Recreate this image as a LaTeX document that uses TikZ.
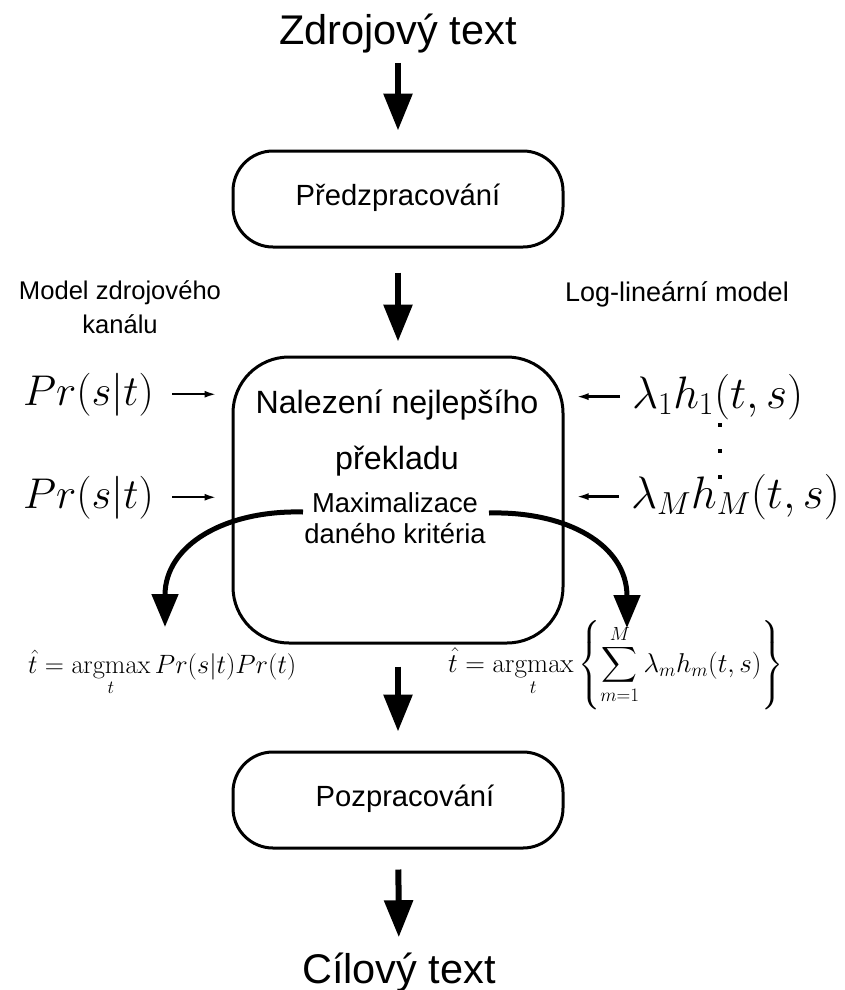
\RequirePackage{fix-cm}
\documentclass[tikz,border=0pt]{standalone}
\usepackage{amsmath}
\usepackage[no-math]{fontspec}
\setmainfont{Liberation Sans}
\usetikzlibrary{arrows.meta}

\tikzset{
  stagebox/.style={draw, line width=3pt, rounded corners=40pt,
    minimum width=330pt, minimum height=96pt, inner sep=0pt,
    text height=22pt, text depth=9pt,
    font=\fontsize{29.2}{35}\selectfont},
  searchbox/.style={draw, line width=3pt, rounded corners=56pt,
    minimum width=330pt, minimum height=286pt, inner sep=0pt},
  endtext/.style={font=\fontsize{41.5}{49}\selectfont, inner sep=0pt},
  sidetext/.style={font=\fontsize{25.6}{34}\selectfont, inner sep=0pt, align=center},
  titletext/.style={font=\fontsize{32.2}{56}\selectfont, inner sep=0pt, align=center},
  subtext/.style={font=\fontsize{27.4}{31}\selectfont, inner sep=0pt, align=center},
  bigmath/.style={font=\fontsize{43}{50}\selectfont, inner sep=0pt},
  featmath/.style={font=\fontsize{45.5}{50}\selectfont, inner sep=0pt},
  formula/.style={font=\fontsize{26.5}{31}\selectfont, inner sep=0pt},
  flow/.style={line width=6pt, -{Triangle[length=37pt,width=28pt]}},
  feed/.style={line width=2.3pt, -{Latex[length=12pt,width=7pt]}},
  sweep/.style={line width=5pt, -{Triangle[length=33pt,width=26pt]}},
}

\begin{document}
\begin{tikzpicture}[x=1pt, y=-1pt]
  \useasboundingbox (0,0) rectangle (844,990);

  % pipeline
  \node[endtext, anchor=base] (src) at (398,45) {Zdrojový text};
  \node[stagebox] (pre) at (398,199) {Předzpracování};
  \node[searchbox] (search) at (398,500) {};
  \node[titletext, anchor=base] (find) at (397,469) {Nalezení nejlepšího\\překladu};
  \node[subtext, anchor=base] (maxi) at (395,543) {Maximalizace\\daného kritéria};
  \node[stagebox] (post) at (398,800) {\hspace*{14pt}Pozpracování};
  \node[endtext, anchor=base] (tgt) at (399,983) {Cílový text};

  \draw[flow, shorten <=9pt, shorten >=19pt] (src) -- (pre);
  \draw[flow, shorten <=24pt, shorten >=14pt] (pre) -- (search);
  \draw[flow, shorten <=22pt, shorten >=19pt] (search) -- (post);
  \draw[flow, shorten <=20pt, shorten >=15pt] (post) -- (tgt);

  % model headings
  \node[sidetext, anchor=base] (noisy) at (120,333) {Model zdrojového\\kanálu};
  \node[sidetext, font=\fontsize{27}{34}\selectfont, anchor=base] (loglin) at (677,301) {Log-lineární model};

  % noisy-channel inputs
  \node[bigmath, anchor=base east] (pa) at (154,405) {$Pr(s|t)$};
  \node[bigmath, anchor=base east] (pb) at (154,508) {$Pr(s|t)$};
  \draw[feed, shorten <=18pt, shorten >=15pt] (pa.east) -- (pa.east -| search.west);
  \draw[feed, shorten <=18pt, shorten >=15pt] (pb.east) -- (pb.east -| search.west);

  % log-linear feature functions
  \node[featmath, anchor=base west] (fa) at (632,408) {$\lambda_1 h_1(t,s)$};
  \node[featmath, anchor=base west] (fm) at (631,508) {$\lambda_M h_M(t,s)$};
  \draw[feed, shorten <=12pt, shorten >=12pt] (fa.west) -- (fa.west -| search.east);
  \draw[feed, shorten <=12pt, shorten >=12pt] (fm.west) -- (fm.west -| search.east);
  \foreach \y in {425,451,477} \fill (718,\y-2) rectangle ++(4,4);

  % decision rules
  \node[formula, anchor=base west] (rulea) at (28,673)
    {$\displaystyle \hat{t} = \operatorname*{argmax}_t Pr(s|t)Pr(t)$};
  \node[formula, font=\fontsize{27.2}{31}\selectfont, anchor=base west] (ruleb) at (448,672)
    {$\displaystyle \hat{t} = \operatorname*{argmax}_t \left\{ \sum_{m=1}^{M} \lambda_m h_m(t,s) \right\}$};

  \coordinate (maxL) at (303,512);
  \coordinate (hitL) at (165,627);
  \coordinate (maxR) at (489,513);
  \coordinate (hitR) at (627,628);
  \draw[sweep] (maxL) .. controls (225,510) and (165,545) .. (hitL);
  \draw[sweep] (maxR) .. controls (567,511) and (627,545) .. (hitR);
\end{tikzpicture}
\end{document}
